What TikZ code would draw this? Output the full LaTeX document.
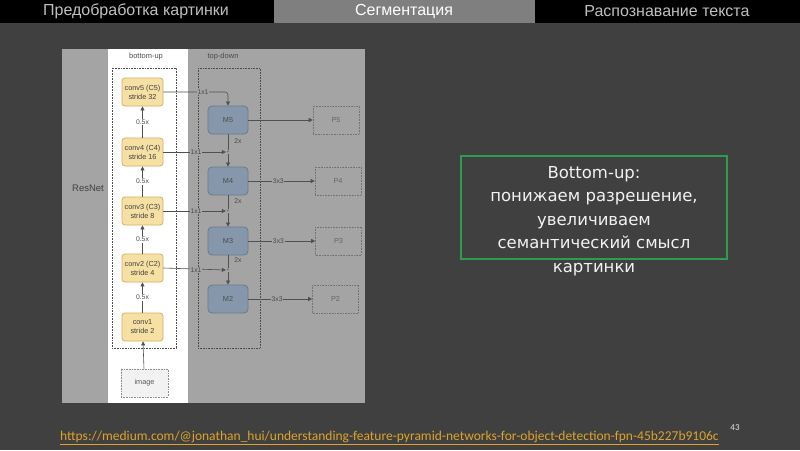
\documentclass[tikz,border=0pt]{standalone}
\usepackage{fontspec}
\setmainfont{Liberation Sans}
\newfontfamily\boxfont{DejaVu Sans}
\newfontfamily\linkfont{Carlito}
\usetikzlibrary{arrows.meta}
\definecolor{bgdark}{HTML}{404040}
\definecolor{tabgray}{HTML}{7F7F7F}
\definecolor{panel}{HTML}{A4A4A4}
\definecolor{convfill}{HTML}{F6E0A4}
\definecolor{convborder}{HTML}{D2B25C}
\definecolor{mfill}{HTML}{8797AB}
\definecolor{mborder}{HTML}{687991}
\definecolor{greenframe}{HTML}{2E9B4E}
\definecolor{linkcol}{HTML}{DCA42A}
\definecolor{conncol}{HTML}{505050}
\tikzset{
  conv/.style={draw=convborder, fill=convfill, rounded corners=3pt, line width=0.8pt,
    minimum width=41pt, minimum height=28pt, inner sep=1pt, align=center,
    font=\fontsize{7.3}{9}\selectfont, text=black!75},
  mbox/.style={draw=mborder, fill=mfill, rounded corners=4pt, line width=0.8pt,
    minimum width=40pt, minimum height=28pt, inner sep=1pt,
    font=\fontsize{7.3}{8}\selectfont, text=black!70},
  pbox/.style={draw=black!55, densely dotted, line width=0.6pt,
    minimum width=46pt, minimum height=28pt, inner sep=1pt,
    font=\fontsize{7.3}{8}\selectfont, text=black!60},
  grpbox/.style={draw=black!70, densely dotted, line width=0.6pt},
  conn/.style={draw=conncol, line width=0.6pt},
  arr/.style={conn, -{Triangle[length=4pt,width=4pt]}},
  lbl/.style={font=\fontsize{6.8}{7.5}\selectfont, text=black!70, inner sep=0.6pt},
  plusn/.style={font=\fontsize{5}{5}\selectfont, text=black!70, inner sep=0.3pt, minimum size=4pt},
  tabtxt/.style={font=\fontsize{16}{18}\selectfont},
}
\begin{document}
\begin{tikzpicture}[x=1pt,y=-1pt]
\useasboundingbox (0,0) rectangle (800,450);
\fill[bgdark] (0,0) rectangle (800,450);
% top bar
\fill[black] (0,0) rectangle (800,23);
\fill[tabgray] (274,0) rectangle (535,23);
\node[tabtxt, text=black!25] (t1) at (136,11.5) {Предобработка картинки};
\node[tabtxt, text=white] (t2) at (404,11.5) {Сегментация};
\node[tabtxt, text=black!25] (t3) at (667,11.5) {Распознавание текста};
% diagram panel
\fill[panel] (62,49) rectangle (365,403);
\fill[white] (108,49) rectangle (188,403);
\node[lbl, font=\fontsize{7.5}{8}\selectfont] (bu) at (146,57) {bottom-up};
\node[lbl, font=\fontsize{7.5}{8}\selectfont] (td) at (223,57) {top-down};
\node[font=\fontsize{9.5}{11}\selectfont, text=black!75] (resnet) at (88,188) {ResNet};
\draw[grpbox] (112,68) rectangle (176,348);
\draw[grpbox] (198,68) rectangle (260,348);
% bottom-up nodes
\node[conv] (C5) at (142.5,92) {conv5 (C5)\\stride 32};
\node[conv] (C4) at (142.5,152) {conv4 (C4)\\stride 16};
\node[conv] (C3) at (142.5,211) {conv3 (C3)\\stride 8};
\node[conv] (C2) at (142.5,268) {conv2 (C2)\\stride 4};
\node[conv] (C1) at (142.5,327) {conv1\\stride 2};
\node[draw=black!45, densely dotted, line width=0.6pt, fill=black!5, minimum width=47pt, minimum height=28pt,
  font=\fontsize{7.3}{8}\selectfont, text=black!65] (img) at (144.5,383) {image};
\draw[arr] (img) -- (C1);
\draw[arr] (C1) -- node[lbl, fill=white] (h1) {0.5x} (C2);
\draw[arr] (C2) -- node[lbl, fill=white] (h2) {0.5x} (C3);
\draw[arr] (C3) -- node[lbl, fill=white] (h3) {0.5x} (C4);
\draw[arr] (C4) -- node[lbl, fill=white] (h4) {0.5x} (C5);
% top-down nodes
\node[mbox] (M5) at (228,120) {M5};
\node[mbox] (M4) at (228,181) {M4};
\node[mbox] (M3) at (228,241) {M3};
\node[mbox] (M2) at (228,299) {M2};
\node[plusn] (S4) at (228,152) {+};
\node[plusn] (S3) at (228,211) {+};
\node[plusn] (S2) at (228,270) {+};
\node[pbox] (P5) at (336,120) {P5};
\node[pbox] (P4) at (338,181) {P4};
\node[pbox] (P3) at (338.5,241) {P3};
\node[pbox] (P2) at (335.5,299) {P2};
% lateral connections
\draw[arr, rounded corners=3pt] (C5.east) -| (M5.north);
\node[lbl, fill=panel] (l5) at (203,92) {1x1};
\draw[arr] (C4.east) -- (S4.west);
\node[lbl, fill=panel] (l4) at (196,152) {1x1};
\draw[arr] (C3.east) -- (S3.west);
\node[lbl, fill=panel] (l3) at (196,211) {1x1};
\draw[arr] (C2.east) -- (S2.west);
\node[lbl, fill=panel] (l2) at (196,270) {1x1};
% top-down path
\draw[conn] (M5.south) -- (S4.north);
\draw[arr] (S4.south) -- (M4.north);
\draw[conn] (M4.south) -- (S3.north);
\draw[arr] (S3.south) -- (M3.north);
\draw[conn] (M3.south) -- (S2.north);
\draw[arr] (S2.south) -- (M2.north);
\node[lbl] (u4) at (238,141) {2x};
\node[lbl] (u3) at (238,201) {2x};
\node[lbl] (u2) at (238,260) {2x};
% outputs
\draw[arr] (M5.east) -- (P5.west);
\draw[arr] (M4.east) -- node[lbl, fill=panel, pos=0.45] (o4) {3x3} (P4.west);
\draw[arr] (M3.east) -- node[lbl, fill=panel, pos=0.45] (o3) {3x3} (P3.west);
\draw[arr] (M2.east) -- node[lbl, fill=panel, pos=0.45] (o2) {3x3} (P2.west);
% green note
\draw[greenframe, line width=2pt] (461,156) rectangle (727,259);
\node[align=center, text=black!5, font=\boxfont\fontsize{16.5}{23.5}\selectfont] (note) at (594,221)
  {Bottom-up:\\понижаем разрешение,\\увеличиваем\\семантический смысл\\картинки};
% footer
\node[anchor=west, inner sep=0pt, text=linkcol, font=\linkfont\fontsize{13.5}{15}\selectfont] (link) at (60,438)
  {\underline{https://medium.com/@jonathan\_hui/understanding-feature-pyramid-networks-for-object-detection-fpn-45b227b9106c}};
\node[text=black!10, font=\linkfont\fontsize{9}{10}\selectfont] (pg) at (735,428) {43};
\end{tikzpicture}
\end{document}
